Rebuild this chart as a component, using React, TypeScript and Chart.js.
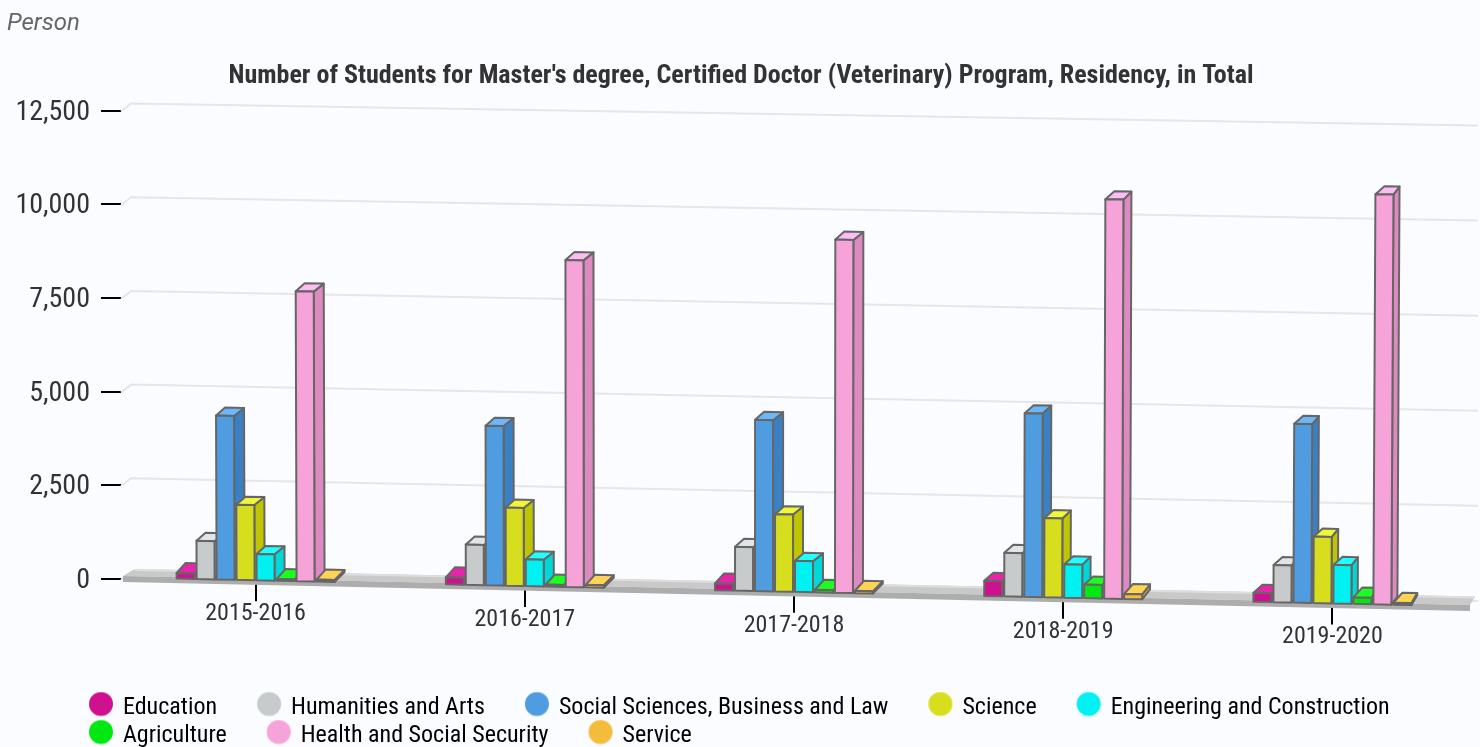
import React, { useEffect, useRef } from "react";
import { Chart, registerables, CategoryScale } from "chart.js";

Chart.register(...registerables);

const categories = ["2015-2016", "2016-2017", "2017-2018", "2018-2019", "2019-2020"];
const seriesNames = ["Education", "Humanities and Arts", "Social Sciences, Business and Law", "Science", "Engineering and Construction", "Agriculture", "Health and Social Security", "Service"];
const education = [175, 214, 206, 430, 268];
const humanities = [1045, 1100, 1194, 1190, 1017];
const socialSciences = [4400, 4283, 4595, 4925, 4800];
const science = [2034, 2110, 2088, 2140, 1800];
const engineering = [730, 740, 856, 918, 1057];
const agriculture = [70, 80, 95, 388, 200];
const health = [7762, 8750, 9450, 10680, 10970];
const service = [80, 95, 90, 160, 80];
const seriesValues = [education, humanities, socialSciences, science, engineering, agriculture, health, service];
const frontColors = ["#cf108f", "#c8cbcc", "#4f9de0", "#d7de1e", "#00f1f1", "#00e812", "#f5a3d9", "#f5bb3a"];
const topColors = ["#e824a8", "#e2e5e6", "#6cb6fa", "#f0f738", "#20ffff", "#1aff20", "#fdbcf2", "#ffd355"];
const sideColors = ["#b60076", "#bfc2c3", "#3a80c4", "#bfc500", "#00d8d8", "#00c80c", "#dc8ac0", "#dca230"];

const TITLE = "Number of Students for Master's degree, Certified Doctor (Veterinary) Program, Residency, in Total";
const FAMILY = "Roboto, sans-serif";
const SLOPE = 0.0215;

class SlopedCategoryScale extends CategoryScale {
  static id = "slopedCategory";
  static defaults = CategoryScale.defaults;
  _slopeAt(x: number) {
    return SLOPE * (x - (this.left + 29));
  }
  _computeLabelItems(area: any) {
    const items = super._computeLabelItems(area);
    items.forEach((it: any) => {
      it.options.translation[1] += this._slopeAt(it.options.translation[0]);
    });
    return items;
  }
  _computeGridLineItems(area: any) {
    const items = super._computeGridLineItems(area);
    items.forEach((it: any) => {
      const d = this._slopeAt(it.tx1);
      it.ty1 += d;
      it.ty2 += d;
    });
    return items;
  }
}
Chart.register(SlopedCategoryScale);

function poly(ctx: CanvasRenderingContext2D, pts: number[][], fill: string, stroke?: string) {
  ctx.beginPath();
  pts.forEach((p, i) => (i ? ctx.lineTo(p[0], p[1]) : ctx.moveTo(p[0], p[1])));
  ctx.closePath();
  ctx.fillStyle = fill;
  ctx.fill();
  if (stroke) {
    ctx.strokeStyle = stroke;
    ctx.lineWidth = 2;
    ctx.lineJoin = "round";
    ctx.stroke();
  }
}

const scene3d = {
  id: "scene3d",
  afterLayout(chart: any) {
    chart.legend.left += 42;
    chart.legend.top = 691.5;
    const sub = chart.boxes.find((b: any) => b.options && b.options.text === TITLE);
    if (sub) {
      sub.left += 4;
      sub.right += 4;
    }
  },
  beforeDatasetsDraw(chart: any) {
    const { ctx, scales } = chart;
    const y = scales.y;
    const x = scales.x;
    const left = x.left;
    const right = x.right;
    const y0 = y.getPixelForValue(0);
    ctx.save();
    ctx.lineWidth = 2;
    ctx.strokeStyle = "#e6e6e6";
    y.ticks.forEach((t: any) => {
      const py = y.getPixelForValue(t.value);
      const slope = SLOPE - ((y0 - py) / (y0 - y.top)) * 0.0052;
      ctx.beginPath();
      ctx.moveTo(left, py + 1);
      ctx.lineTo(left + 10, py - 7);
      ctx.lineTo(right + 11, py - 7 + slope * (right + 1 - left));
      ctx.stroke();
    });
    poly(ctx, [[left + 14, y0 - 10], [right + 8, y0 + 17.5], [right + 3, y0 + 26], [left + 2, y0 - 3]], "#c9c9c9");
    poly(ctx, [[left + 2, y0 - 3], [right + 3, y0 + 26], [right + 3, y0 + 32], [left + 2, y0 + 3]], "#adadad");
    ctx.strokeStyle = "#dedede";
    ctx.lineWidth = 2;
    ctx.beginPath();
    ctx.moveTo(left + 14, y0 - 9);
    ctx.lineTo(right + 8, y0 + 18.5);
    ctx.stroke();
    ctx.restore();
  },
  beforeDatasetDraw() {
    return false;
  },
  afterDatasetsDraw(chart: any) {
    const { ctx, scales } = chart;
    const x0 = scales.x.left + 29;
    const y0 = scales.y.getPixelForValue(0);
    const project = (px: number, py: number) => [
      px + (y0 - py) * (px - 700) * 7.4e-6,
      py + SLOPE * (px - x0),
    ];
    ctx.save();
    seriesValues.forEach((_, i) => {
      chart.getDatasetMeta(i).data.forEach((bar: any) => {
        const l = bar.x - bar.width / 2;
        const r = bar.x + bar.width / 2;
        const dxR = r < 850 ? 10 : 10 - (r - 850) * 0.0073;
        const dxL = 9;
        const dz = bar.base - bar.y < 8 ? 10 : 8;
        const fl = project(l, bar.base);
        const fr = project(r, bar.base);
        const tr = project(r, bar.y);
        const tl = project(l, bar.y);
        const bk = (p: number[], dx: number) => [p[0] + dx, p[1] - dz];
        poly(ctx, [fr, tr, bk(tr, dxR), bk(fr, dxR)], sideColors[i], "#666666");
        poly(ctx, [tl, tr, bk(tr, dxR), bk(tl, dxL)], topColors[i], "#666666");
        poly(ctx, [fl, fr, tr, tl], frontColors[i], "#666666");
      });
    });
    ctx.restore();
  },
};

function markerCanvas(color: string) {
  const c = document.createElement("canvas");
  c.width = 64;
  c.height = 32;
  const g = c.getContext("2d")!;
  g.fillStyle = color;
  g.beginPath();
  g.arc(51, 12.5, 12, 0, Math.PI * 2);
  g.fill();
  return c;
}

export default function App() {
  const ref = useRef<HTMLCanvasElement>(null);
  useEffect(() => {
    const chart = new Chart(ref.current!, {
      type: "bar",
      data: {
        labels: categories,
        datasets: seriesValues.map((data, i) => ({
          label: seriesNames[i],
          data,
          backgroundColor: frontColors[i],
          categoryPercentage: 0.594,
          barPercentage: 0.9,
        })),
      },
      plugins: [scene3d],
      options: {
        animation: false,
        responsive: false,
        maintainAspectRatio: false,
        layout: { padding: { left: 7, right: 13, top: 0, bottom: 0 } },
        plugins: {
          tooltip: { enabled: false },
          title: {
            display: true,
            text: "Person",
            align: "start",
            color: "#666666",
            font: { family: FAMILY, size: 24, style: "italic", weight: "normal" },
            padding: { top: 10, bottom: 0 },
          },
          subtitle: {
            display: true,
            text: TITLE,
            color: "#333333",
            font: { family: FAMILY, size: 26, weight: "bold condensed" as any },
            padding: { top: 22, bottom: 18.5 },
          },
          legend: {
            position: "bottom",
            align: "start",
            labels: {
              color: "#333333",
              font: { family: FAMILY, size: 24, weight: "condensed" as any },
              usePointStyle: true,
              pointStyleWidth: 58,
              padding: 4,
              generateLabels: (c: any) =>
                c.data.datasets.map((d: any, i: number) => ({
                  text: d.label,
                  fillStyle: frontColors[i],
                  strokeStyle: frontColors[i],
                  lineWidth: 0,
                  pointStyle: markerCanvas(frontColors[i]),
                  datasetIndex: i,
                  hidden: false,
                })),
            },
          },
        },
        scales: {
          x: {
            type: "slopedCategory" as any,
            afterFit: (s: any) => {
              s.height = 102;
            },
            border: { display: false },
            grid: { offset: false, drawOnChartArea: false, tickLength: 20, tickColor: "#000000", lineWidth: 2 },
            ticks: { color: "#333333", padding: -1.5, font: { family: FAMILY, size: 24, weight: "condensed" as any }, maxRotation: 0 },
          },
          y: {
            min: 0,
            max: 12500,
            afterFit: (s: any) => {
              s.width = 114;
            },
            border: { display: false },
            grid: { drawOnChartArea: false, tickLength: 20, tickColor: "#000000", lineWidth: 2 },
            ticks: { stepSize: 2500, color: "#333333", padding: 11, labelOffset: 2, font: { family: FAMILY, size: 28, weight: "condensed" as any } },
          },
        },
      },
    } as any);
    return () => chart.destroy();
  }, []);
  return (
    <div style={{ position: "fixed", left: 0, top: 0, width: 1480, height: 747, background: "#fbfcff" }}>
      <canvas ref={ref} width={1480} height={747} style={{ display: "block" }} />
    </div>
  );
}
